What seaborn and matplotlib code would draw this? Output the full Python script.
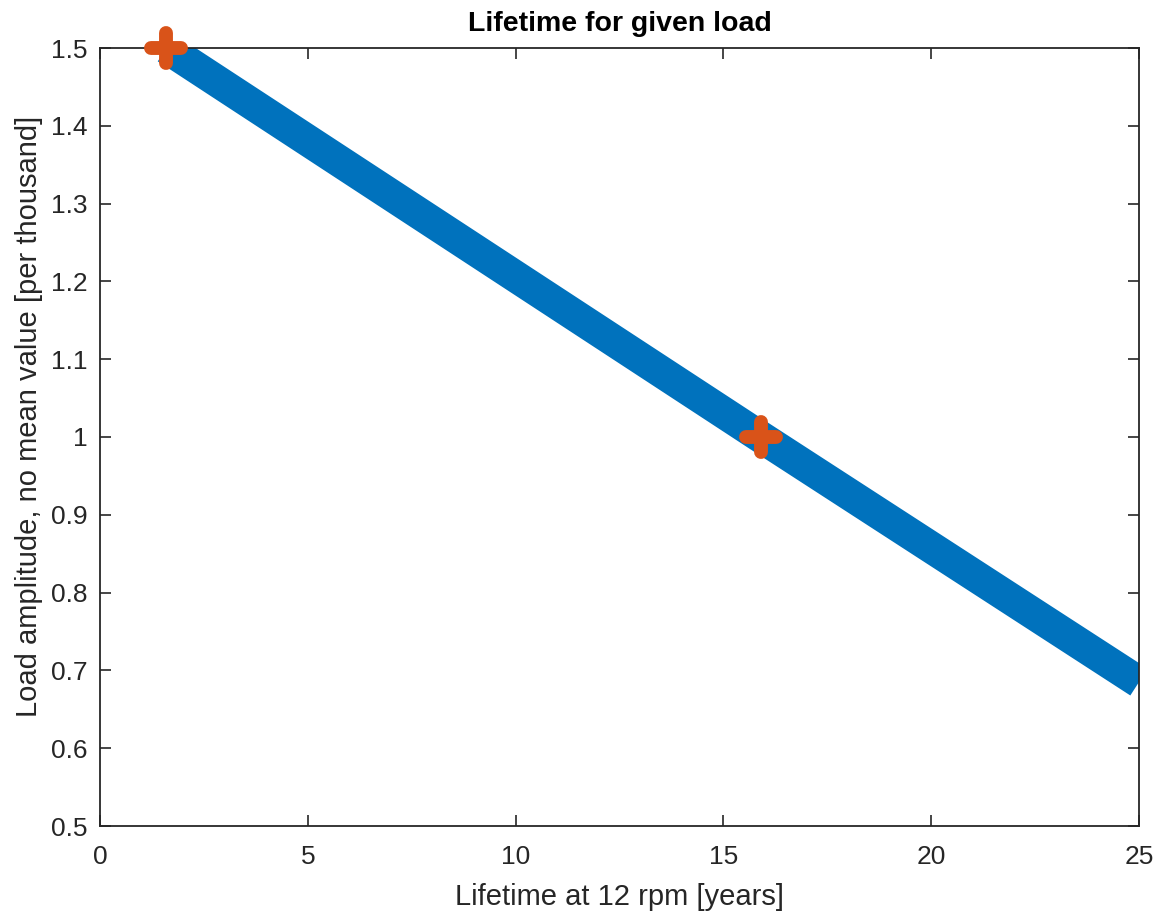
import matplotlib
matplotlib.use("Agg")
import matplotlib.pyplot as plt
from matplotlib.markers import MarkerStyle
import seaborn as sns
import pandas as pd

# Data
lifetime_years = [1.6, 15.9, 25.0]
load_amplitude = [1.5, 1.0, 0.685]
marker_years = [1.6, 15.9]
marker_load = [1.5, 1.0]
x_ticks = [0, 5, 10, 15, 20, 25]
y_ticks = [0.5, 0.6, 0.7, 0.8, 0.9, 1.0, 1.1, 1.2, 1.3, 1.4, 1.5]
y_tick_labels = ["0.5", "0.6", "0.7", "0.8", "0.9", "1", "1.1", "1.2", "1.3", "1.4", "1.5"]

sns.set_style("white")
plt.rcParams['font.family'] = ['Liberation Sans', 'DejaVu Sans']

line_df = pd.DataFrame({"x": lifetime_years, "y": load_amplitude})
mk_df = pd.DataFrame({"x": marker_years, "y": marker_load})

fig = plt.figure(figsize=(11.6, 9.18), dpi=100)
ax = fig.add_axes([100/1160, 1 - 826/918, (1139-100)/1160, (826-48)/918])

sns.lineplot(data=line_df, x="x", y="y", ax=ax, color="#0072BD", linewidth=23,
             solid_capstyle="butt", sort=False)
plus = MarkerStyle("+", capstyle="round")
ax.plot(mk_df["x"], mk_df["y"], linestyle="none", marker=plus, markersize=22,
        markeredgewidth=10, color="#D95319", zorder=6, clip_on=False)

ax.set_xlim(0, 25)
ax.set_ylim(0.5, 1.5)
ax.set_xticks(x_ticks)
ax.set_xticklabels([str(t) for t in x_ticks])
ax.set_yticks(y_ticks)
ax.set_yticklabels(y_tick_labels)

txt = "#262626"
ax.tick_params(direction="in", length=8, width=1.2, color="#262626",
               labelsize=19, labelcolor=txt, top=True, right=True,
               left=True, bottom=True)
ax.tick_params(axis="x", pad=14)
ax.tick_params(axis="y", pad=9)
for s in ax.spines.values():
    s.set_color("#262626")
    s.set_linewidth(1.3)
    s.set_visible(True)

ax.set_xlabel("Lifetime at 12 rpm [years]", fontsize=21, color=txt, labelpad=10)
ax.set_ylabel("Load amplitude, no mean value [per thousand]", fontsize=21, color=txt, labelpad=6)
ax.yaxis.label.set_y(0.527)
ax.set_title("Lifetime for given load", fontsize=20.5, fontweight="bold", color="black", pad=12)

fig.savefig("out.png", dpi=100)
